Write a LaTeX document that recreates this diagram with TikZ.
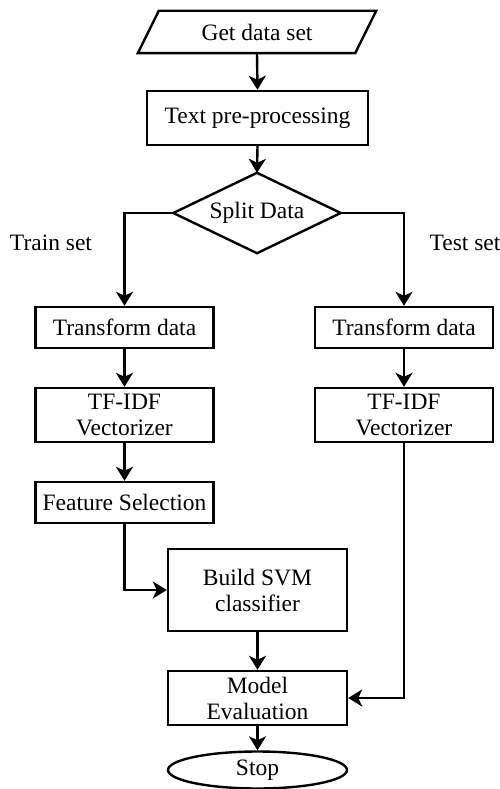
\documentclass[tikz,border=0pt]{standalone}
\usepackage{fontspec}
\setmainfont{Liberation Serif}
\usetikzlibrary{arrows.meta,shapes.geometric}

\tikzset{
  flowline/.style={line width=2.4pt},
  flowarrow/.style={flowline,-{Stealth[length=14pt,width=17pt,inset=4pt]}},
  procbox/.style={draw,line width=2.4pt,rectangle,align=center,inner sep=0pt,
    font=\fontsize{23.5}{26}\selectfont},
  plainbox/.style={rectangle,align=center,inner sep=0pt,
    font=\fontsize{23.5}{26}\selectfont},
  lbl/.style={inner sep=0pt,font=\fontsize{23.5}{26}\selectfont},
}

\begin{document}
\begin{tikzpicture}[x=1pt,y=-1pt]
  \useasboundingbox (0,0) rectangle (500,789);

  % input parallelogram
  \node[plainbox,minimum width=217,minimum height=42] (get) at (257,32) {Get data set};
  \draw[flowline,line join=miter]
    ([xshift=10.5pt]get.north west) -- ([xshift=10.5pt]get.north east)
    -- ([xshift=-10.5pt]get.south east) -- ([xshift=-10.5pt]get.south west) -- cycle;

  \node[procbox,minimum width=221,minimum height=54] (prep) at (257.5,118) {Text pre-processing};

  % decision diamond
  \node[plainbox,minimum width=167,minimum height=80] (split) at (257,213) {Split Data};
  \draw[flowline,line join=miter]
    (split.north) -- (split.east) -- (split.south) -- (split.west) -- cycle;

  \node[lbl] (trainlbl) at (51,243) {Train set};
  \node[lbl] (testlbl) at (465,243) {Test set};

  % train branch
  \node[procbox,minimum width=178,minimum height=41] (tl) at (124.5,327.5) {Transform data};
  \node[procbox,minimum width=178,minimum height=54] (vl) at (124.5,415) {TF-IDF\\Vectorizer};
  \node[procbox,minimum width=178,minimum height=41] (fs) at (124.5,502.5) {Feature Selection};

  % test branch
  \node[procbox,minimum width=178,minimum height=41] (tr) at (404,327.5) {Transform data};
  \node[procbox,minimum width=178,minimum height=54] (vr) at (404,415) {TF-IDF\\Vectorizer};

  % model and evaluation
  \node[procbox,minimum width=179,minimum height=82] (svm) at (257.5,590) {Build SVM\\classifier};
  \node[procbox,minimum width=179,minimum height=54] (eval) at (257.5,698) {Model\\Evaluation};
  \node[draw,ellipse,line width=2.4pt,inner sep=0pt,minimum width=179,minimum height=37,
    font=\fontsize{23.5}{26}\selectfont] (stop) at (257.5,770) {Stop};

  % connectors
  \draw[flowarrow] (get.south) -- (prep.north);
  \draw[flowarrow] (prep.south) -- (split.north);
  \draw[flowarrow] (split.west) -| (tl.north);
  \draw[flowarrow] (split.east) -| (tr.north);
  \draw[flowarrow] (tl.south) -- (vl.north);
  \draw[flowarrow] (tr.south) -- (vr.north);
  \draw[flowarrow] (vl.south) -- (fs.north);
  \draw[flowarrow] (fs.south) |- (svm.west);
  \draw[flowarrow] (svm.south) -- (eval.north);
  \draw[flowarrow] (vr.south) |- (eval.east);
  \draw[flowarrow] (eval.south) -- (stop.north);
\end{tikzpicture}
\end{document}
